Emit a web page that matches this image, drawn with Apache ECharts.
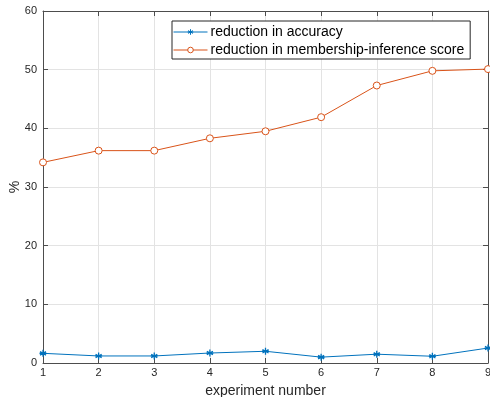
<!DOCTYPE html>
<html>
<head>
<meta charset="utf-8">
<script src="https://cdn.jsdelivr.net/npm/echarts@6/dist/echarts.min.js"></script>
<style>html,body{margin:0;padding:0;background:#fff}#c{width:490px;height:397px}</style>
</head>
<body>
<div id="c"></div>
<script>
const experiments = [1, 2, 3, 4, 5, 6, 7, 8, 9];
const accuracyReduction = [1.65, 1.2, 1.2, 1.7, 2.0, 1.0, 1.5, 1.15, 2.55];
const membershipReduction = [34.2, 36.2, 36.2, 38.3, 39.5, 41.9, 47.3, 49.8, 50.1];
const seriesNames = ['reduction in accuracy', 'reduction in membership-inference score'];
const xTitle = 'experiment number';
const yTitle = '%';

const font = 'Liberation Sans, Arial, Helvetica, sans-serif';
const axisCol = '#4d4d4d';
const asterisk = 'path://M0,-1L0,1M-0.866,-0.5L0.866,0.5M-0.866,0.5L0.866,-0.5M-1,0L1,0';

const chart = echarts.init(document.getElementById('c'), null, {renderer: 'canvas'});
const baseX = {
  type: 'value', min: 1, max: 9, interval: 1,
  axisLine: {show: true, onZero: false, lineStyle: {color: axisCol, width: 1}},
  axisTick: {show: true, inside: true, length: 5, lineStyle: {color: axisCol}},
  splitLine: {show: false}
};
const baseY = {
  type: 'value', min: 0, max: 60, interval: 10,
  axisLine: {show: true, onZero: false, lineStyle: {color: axisCol, width: 1}},
  axisTick: {show: true, inside: true, length: 5, lineStyle: {color: axisCol}},
  splitLine: {show: false}
};
chart.setOption({
  animation: false,
  textStyle: {fontFamily: font},
  grid: {left: 43, right: 2, top: 11, bottom: 34, containLabel: false, outerBoundsMode: 'none'},
  xAxis: [
    Object.assign({}, baseX, {
      position: 'bottom',
      name: xTitle, nameLocation: 'middle', nameGap: 21,
      nameTextStyle: {color: '#262626', fontSize: 14, fontFamily: font},
      axisLabel: {color: '#262626', fontSize: 11, margin: 4, fontFamily: font},
      splitLine: {show: true, lineStyle: {color: '#e3e3e3', width: 1}}
    }),
    Object.assign({}, baseX, {position: 'top', axisLabel: {show: false}})
  ],
  yAxis: [
    Object.assign({}, baseY, {
      position: 'left',
      name: yTitle, nameLocation: 'middle', nameGap: 21, nameRotate: 90,
      nameMoveOverlap: false,
      nameTextStyle: {color: '#262626', fontSize: 14, fontFamily: font},
      axisLabel: {color: '#262626', fontSize: 11, margin: 6, fontFamily: font},
      splitLine: {show: true, lineStyle: {color: '#e3e3e3', width: 1}}
    }),
    Object.assign({}, baseY, {position: 'right', axisLabel: {show: false}})
  ],
  legend: {
    orient: 'vertical', left: 172, top: 21,
    padding: [4, 6, 2, 1],
    itemGap: 4, itemWidth: 34, itemHeight: 7,
    backgroundColor: '#fff', borderColor: '#262626', borderWidth: 1,
    lineStyle: {width: 1},
    itemStyle: {borderWidth: 1},
    textStyle: {color: '#000', fontSize: 14, fontFamily: font, padding: [0, 0, 0, -2]},
    data: seriesNames
  },
  series: [
    {
      name: seriesNames[0], type: 'line',
      data: experiments.map((x, i) => [x, accuracyReduction[i]]),
      symbol: asterisk, symbolSize: 7, showAllSymbol: true,
      lineStyle: {color: '#0072BD', width: 1},
      itemStyle: {color: '#0072BD', borderColor: '#0072BD', borderWidth: 1.3}
    },
    {
      name: seriesNames[1], type: 'line',
      data: experiments.map((x, i) => [x, membershipReduction[i]]),
      symbol: 'circle', symbolSize: 7, showAllSymbol: true,
      lineStyle: {color: '#D95319', width: 1},
      itemStyle: {color: '#ffffff', borderColor: '#D95319', borderWidth: 1}
    }
  ]
});
</script>
</body>
</html>
